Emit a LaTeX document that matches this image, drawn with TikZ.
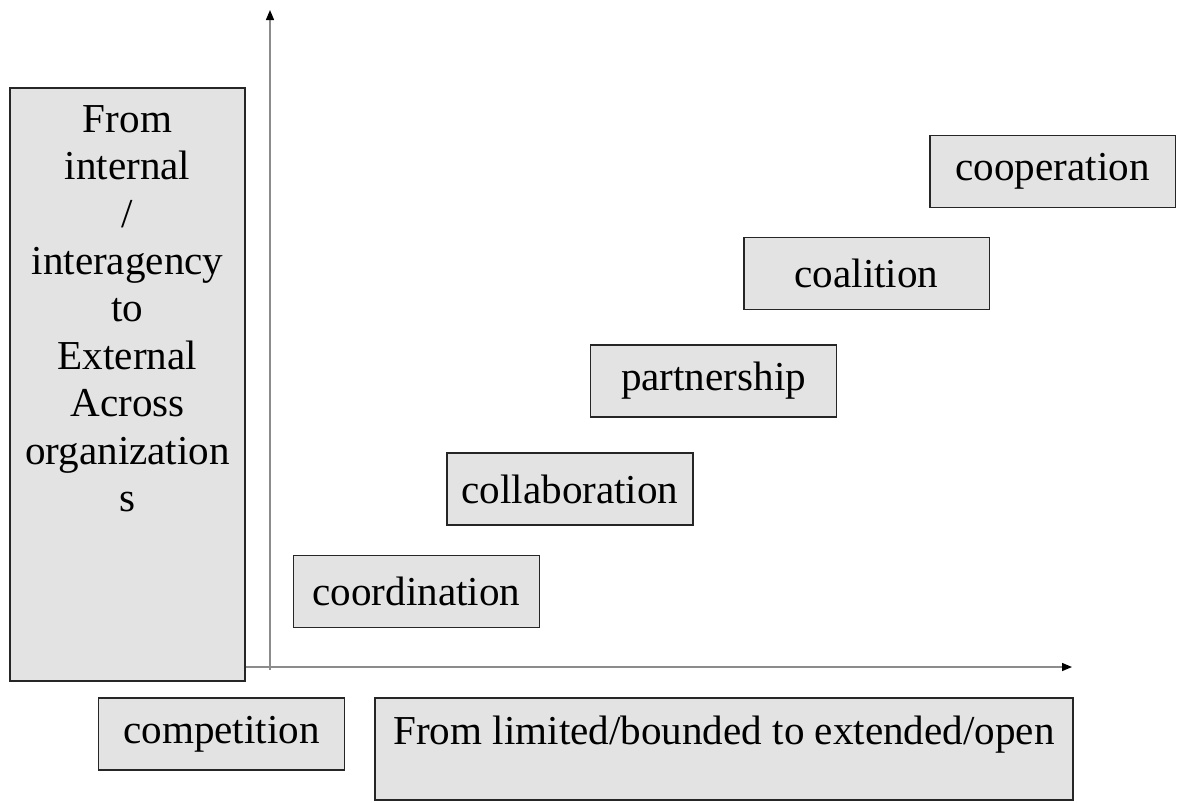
\documentclass[tikz,border=0pt]{standalone}
\usepackage{fontspec}
\setmainfont{Liberation Serif}
\usetikzlibrary{arrows.meta}
\definecolor{boxgray}{HTML}{E3E3E3}
\definecolor{axisgray}{HTML}{8C8C8C}
\begin{document}
\begin{tikzpicture}[x=0.02cm, y=-0.02cm,
  stage/.style={draw=black!85, line width=1.1pt, fill=boxgray, minimum width=4.92cm, minimum height=1.44cm, inner sep=0pt, font=\fontsize{23.4}{27}\selectfont},
  axis/.style={draw=axisgray, line width=0.8pt, -{Triangle[black, length=0.2cm, width=0.16cm]}}]
  \useasboundingbox (0,0) rectangle (1183,802);
  % boxes along the diagonal
  \node[stage] (coord) at (416.5,591.5) {coordination};
  \node[stage] (collab) at (570,489) {collaboration};
  \node[stage] (partner) at (713.5,381) {partnership};
  \node[stage] (coal) at (866.5,273.5) {coalition};
  \node[stage] (coop) at (1052.5,171.5) {cooperation};
  \node[stage] (comp) at (221.5,734) {competition};
  % x-axis caption, text sits high in its box
  \node[stage, minimum width=13.96cm, minimum height=2.04cm, text height=0.55cm, text depth=0.75cm] (range) at (724,749) {From limited/bounded to extended/open};
  % y-axis caption
  \node[stage, minimum width=4.7cm, minimum height=11.86cm] (scope) at (127.5,384.5) {};
  \node[anchor=north, align=center, font=\fontsize{23.4}{27}\selectfont] (scopetext) at ([yshift=-0.24cm]scope.north) {From\\internal\\/\\interagency\\to\\External\\Across\\organization\\s};
  % axes
  \coordinate (origin) at (270,667);
  \draw[axis] (270,670) -- (270,10);
  \draw[axis] (scope.east |- origin) -- (1072,667);
\end{tikzpicture}
\end{document}
